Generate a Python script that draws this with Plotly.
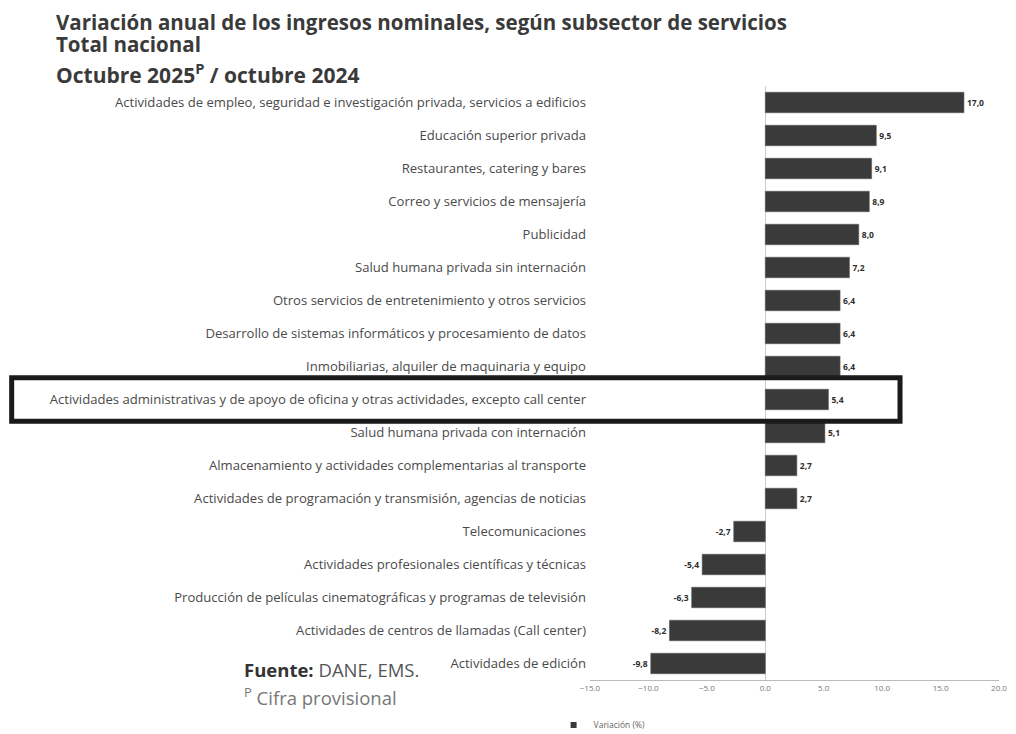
import plotly.graph_objects as go

categories = [
    "Actividades de empleo, seguridad e investigación privada, servicios a edificios",
    "Educación superior privada",
    "Restaurantes, catering y bares",
    "Correo y servicios de mensajería",
    "Publicidad",
    "Salud humana privada sin internación",
    "Otros servicios de entretenimiento y otros servicios",
    "Desarrollo de sistemas informáticos y procesamiento de datos",
    "Inmobiliarias, alquiler de maquinaria y equipo",
    "Actividades administrativas y de apoyo de oficina y otras actividades, excepto call center",
    "Salud humana privada con internación",
    "Almacenamiento y actividades complementarias al transporte",
    "Actividades de programación y transmisión, agencias de noticias",
    "Telecomunicaciones",
    "Actividades profesionales científicas y técnicas",
    "Producción de películas cinematográficas y programas de televisión",
    "Actividades de centros de llamadas (Call center)",
    "Actividades de edición",
]
values = [17.0, 9.5, 9.1, 8.9, 8.0, 7.2, 6.4, 6.4, 6.4, 5.4, 5.1, 2.7, 2.7,
          -2.7, -5.4, -6.3, -8.2, -9.8]
tick_values = [-15, -10, -5, 0, 5, 10, 15, 20]
highlight = "Actividades administrativas y de apoyo de oficina y otras actividades, excepto call center"
series_name = "Variación (%)"

labels = [f"<b>{v:.1f}</b>".replace(".", ",") for v in values]

fig = go.Figure()
fig.add_trace(go.Bar(
    y=categories, x=values, orientation="h",
    name=series_name,
    marker=dict(color="#3a3a3a", line=dict(color="#5a5a5a", width=0.6)),
    text=labels, textposition="outside", cliponaxis=False,
    textfont=dict(size=8.5, color="#2e2e2e", family="Open Sans"),
    showlegend=False,
))
# legend entry with a small square symbol
fig.add_trace(go.Scatter(
    x=[None], y=[None], mode="markers", name=series_name,
    marker=dict(symbol="square", size=6, color="#3a3a3a"),
    showlegend=True, hoverinfo="skip",
))

hi = categories.index(highlight)
fig.add_shape(type="rect", xref="paper", yref="y",
              x0=-1.414, x1=0.758, y0=hi - 0.66, y1=hi + 0.66,
              line=dict(color="#1a1a1a", width=5), fillcolor="rgba(0,0,0,0)", layer="above")

title_font = dict(family="Open Sans", size=20.5, color="#3a3a3a")
fig.add_annotation(text="<b>Variación anual de los ingresos nominales, según subsector de servicios</b>",
                   xref="paper", yref="paper", x=-1.31, y=1.108, xanchor="left", yanchor="middle",
                   showarrow=False, font=title_font)
fig.add_annotation(text="<b>Total nacional</b>",
                   xref="paper", yref="paper", x=-1.31, y=1.071, xanchor="left", yanchor="middle",
                   showarrow=False, font=title_font)
fig.add_annotation(text="<b>Octubre 2025<sup>P</sup> / octubre 2024</b>",
                   xref="paper", yref="paper", x=-1.31, y=1.021, xanchor="left", yanchor="middle",
                   showarrow=False, font=dict(family="Open Sans", size=21, color="#3a3a3a"))
fig.add_annotation(text="<b>Fuente:</b> <span style='color:#555555'>DANE, EMS.</span>",
                   xref="paper", yref="paper", x=-0.851, y=0.0185, xanchor="left", yanchor="middle",
                   showarrow=False, font=dict(family="Open Sans", size=18.5, color="#333333"))
fig.add_annotation(text="<sup>P</sup> Cifra provisional",
                   xref="paper", yref="paper", x=-0.851, y=-0.027, xanchor="left", yanchor="middle",
                   showarrow=False, font=dict(family="Open Sans", size=18.5, color="#777777"))

fig.update_layout(
    width=1016, height=734,
    paper_bgcolor="white", plot_bgcolor="white",
    margin=dict(l=582, r=25, t=78, b=62),
    bargap=0.38,
    font=dict(family="Open Sans", color="#444444"),
    legend=dict(orientation="h", xref="container", yref="container",
                x=0.537, y=0.023, xanchor="left", yanchor="middle",
                font=dict(size=8.5, color="#666666"), bgcolor="rgba(0,0,0,0)"),
    xaxis=dict(range=[-15, 20], tickvals=tick_values, tickformat=".1f", automargin=False,
               showgrid=False, zeroline=True, zerolinecolor="#cccccc", zerolinewidth=1,
               showline=True, linecolor="#bbbbbb", linewidth=1,
               tickfont=dict(size=8, color="#777777"), ticks=""),
    yaxis=dict(autorange="reversed", showgrid=False, ticks="", automargin=False,
               tickfont=dict(size=13.1, color="#4a4a4a"), ticklabelstandoff=3),
)

fig.write_html("out.html")
